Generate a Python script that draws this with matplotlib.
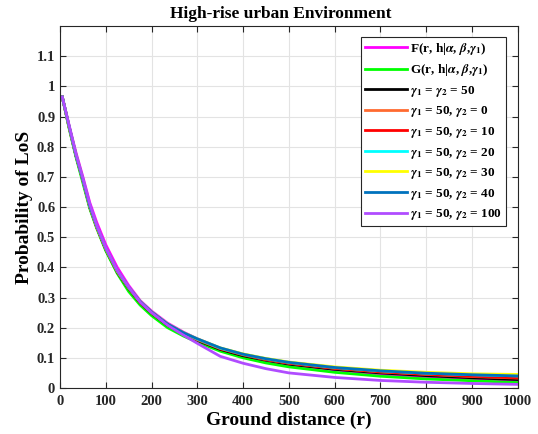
import numpy as np
import matplotlib.pyplot as plt

plt.rcParams['font.family'] = 'Liberation Serif'
plt.rcParams['font.weight'] = 'bold'
plt.rcParams['mathtext.fontset'] = 'stix'

# ground distance samples
r = [5, 20, 35, 50, 65, 80, 100, 125, 150, 175, 200, 235, 270, 300,
     350, 400, 450, 500, 600, 700, 800, 900, 1000]

F = [0.965, 0.87, 0.78, 0.70, 0.615, 0.55, 0.475, 0.40, 0.34, 0.29, 0.255, 0.215,
     0.185, 0.163, 0.132, 0.108, 0.092, 0.080, 0.060, 0.046, 0.036, 0.028, 0.022]
G = [0.965, 0.86, 0.765, 0.68, 0.595, 0.53, 0.455, 0.38, 0.32, 0.275, 0.24, 0.20,
     0.172, 0.152, 0.122, 0.100, 0.083, 0.070, 0.052, 0.039, 0.030, 0.024, 0.018]
g50 = [0.965, 0.865, 0.77, 0.69, 0.60, 0.535, 0.46, 0.385, 0.33, 0.283, 0.248, 0.208,
       0.178, 0.158, 0.128, 0.107, 0.092, 0.079, 0.062, 0.050, 0.041, 0.034, 0.028]
g0 = [0.965, 0.866, 0.772, 0.688, 0.602, 0.536, 0.462, 0.386, 0.331, 0.285, 0.249, 0.21,
      0.18, 0.16, 0.131, 0.11, 0.094, 0.082, 0.065, 0.053, 0.045, 0.038, 0.033]
g10 = [0.965, 0.864, 0.771, 0.689, 0.601, 0.534, 0.461, 0.387, 0.332, 0.284, 0.25, 0.209,
       0.181, 0.161, 0.13, 0.111, 0.095, 0.083, 0.066, 0.054, 0.046, 0.039, 0.034]
g20 = [0.965, 0.866, 0.772, 0.69, 0.603, 0.537, 0.463, 0.388, 0.333, 0.286, 0.251, 0.211,
       0.182, 0.162, 0.132, 0.112, 0.097, 0.085, 0.068, 0.057, 0.049, 0.044, 0.040]
g30 = [0.965, 0.865, 0.773, 0.691, 0.602, 0.536, 0.462, 0.388, 0.334, 0.287, 0.252, 0.212,
       0.183, 0.163, 0.133, 0.113, 0.098, 0.086, 0.070, 0.059, 0.052, 0.047, 0.045]
g40 = [0.965, 0.866, 0.772, 0.69, 0.603, 0.537, 0.463, 0.389, 0.334, 0.287, 0.252, 0.212,
       0.183, 0.163, 0.133, 0.112, 0.097, 0.085, 0.068, 0.057, 0.049, 0.044, 0.040]
g100 = [0.965, 0.87, 0.775, 0.695, 0.61, 0.54, 0.465, 0.39, 0.335, 0.285, 0.25, 0.208,
        0.175, 0.148, 0.105, 0.082, 0.064, 0.050, 0.035, 0.025, 0.019, 0.015, 0.012]

g = r'$\boldsymbol{\gamma}_\mathbf{%s}$'
series = [F, G, g50, g0, g10, g20, g30, g40, g100]
labels = [r'F(r, h|$\boldsymbol{\alpha}$, $\boldsymbol{\beta}$,' + g % '1' + ')',
          r'G(r, h|$\boldsymbol{\alpha}$, $\boldsymbol{\beta}$,' + g % '1' + ')',
          g % '1' + ' = ' + g % '2' + ' = 50',
          g % '1' + ' = 50, ' + g % '2' + ' = 0',
          g % '1' + ' = 50, ' + g % '2' + ' = 10',
          g % '1' + ' = 50, ' + g % '2' + ' = 20',
          g % '1' + ' = 50, ' + g % '2' + ' = 30',
          g % '1' + ' = 50, ' + g % '2' + ' = 40',
          g % '1' + ' = 50, ' + g % '2' + ' = 100']
colors = ['#FF00FF', '#00FF00', '#000000', '#FF6A30', '#FF0000', '#00FFFF',
          '#FFFF00', '#0072BD', '#B04CFF']

fig = plt.figure(figsize=(5.38, 4.34), dpi=100)
ax = fig.add_axes([0.1115, 0.106, 0.851, 0.834])

for y, lab, c in zip(series, labels, colors):
    ax.plot(r, y, color=c, lw=2.0, label=lab)

ax.set_xlim(0, 1000)
ax.set_ylim(0, 1.2)
ax.set_xticks(np.arange(0, 1001, 100))
yt = np.arange(0, 1.11, 0.1)
ax.set_yticks(yt)
ax.set_yticklabels(['%g' % round(v, 1) for v in yt])
ax.tick_params(direction='in', top=True, right=True, labelsize=10.5, length=4, colors='#262626')
ax.tick_params(axis='x', pad=5)
ax.grid(True, color='#e3e3e3', lw=0.8)
ax.set_axisbelow(True)
for s in ax.spines.values():
    s.set_color('#262626')
    s.set_linewidth(0.8)

ax.set_xlabel('Ground distance (r)', fontsize=14, fontweight='bold', labelpad=3)
ax.set_ylabel('Probability of LoS', fontsize=14, fontweight='bold', labelpad=3)
ax.set_title('High-rise urban Environment', fontsize=12.5, fontweight='bold', pad=6, x=0.483)

leg = ax.legend(loc='upper right', prop={'size': 9.5, 'weight': 'bold'},
                handlelength=3.2, handletextpad=0.2, labelspacing=0.42, borderpad=0.3,
                borderaxespad=0, fancybox=False, edgecolor='#262626', framealpha=1,
                bbox_to_anchor=(0.974, 0.97))
leg.get_frame().set_linewidth(0.8)

fig.savefig('out.png', dpi=100)
